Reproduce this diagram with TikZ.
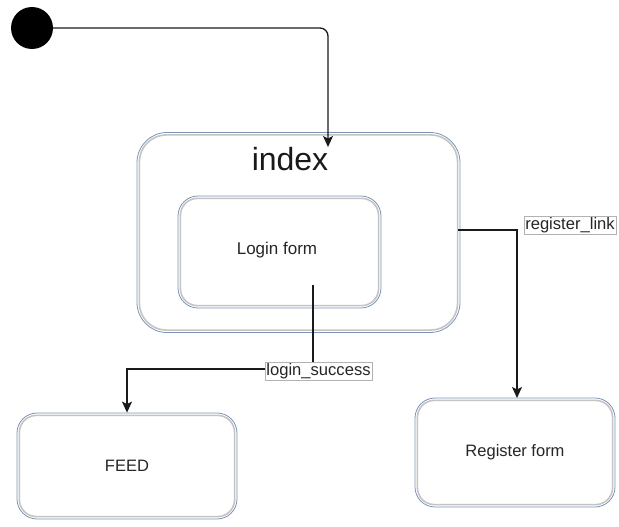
\documentclass[tikz,border=0pt]{standalone}
\usepackage{fontspec}
\setmainfont{Liberation Sans}
\usetikzlibrary{arrows.meta}
\definecolor{boxblue}{HTML}{7C93B8}
\definecolor{boxgray}{HTML}{C4C4C4}
\definecolor{linec}{HTML}{1A1A1A}
\tikzset{
  statebox/.style={draw=boxblue, line width=0.8pt, rounded corners=#1, fill=white,
    font=\fontsize{16.5}{19}\selectfont, text=black!85},
  innerline/.style={draw=boxgray, line width=1.6pt},
  flow/.style={draw=linec, line width=1.3pt, rounded corners=8pt,
    -{Stealth[length=11pt,width=10pt,inset=2.5pt]}},
  plain/.style={draw=linec, line width=1.3pt},
  tag/.style={draw=black!30, line width=0.6pt, fill=white, inner sep=1.2pt,
    font=\fontsize{16.6}{19}\selectfont, text=black!85},
}
\begin{document}
\begin{tikzpicture}[x=1pt,y=-1pt]
\useasboundingbox (0,0) rectangle (619,527);

% states
\node[statebox=30pt, minimum width=323pt, minimum height=200pt] (index) at (298.5,232.5) {};
\node[font=\fontsize{32}{36}\selectfont, text=black!90] (indextitle) at (290,159) {index};
\node[statebox=20pt, minimum width=203pt, minimum height=112pt] (login) at (279.5,252) {};
\node[font=\fontsize{17}{19}\selectfont, text=black!85] (logintext) at (277,250) {Login form};
\node[statebox=20pt, minimum width=220pt, minimum height=106pt] (feed) at (127,466) {FEED};
\node[statebox=20pt, minimum width=200pt, minimum height=109pt] (reg) at (515,452.5) {Register form};

% light inner rim of each state
\foreach \n/\r in {index/27pt, login/17pt, feed/17pt, reg/17pt}
  \draw[innerline, rounded corners=\r] ([shift={(2.8,2.8)}]\n.north west) rectangle ([shift={(-2.8,-2.8)}]\n.south east);

% initial state
\node[circle, fill=black, minimum size=42pt, inner sep=0pt] (start) at (32,28) {};

% transitions
\coordinate (indexin) at (328,147);
\draw[flow] (start.east) -| (indexin);

\coordinate (loginout) at (313,285);
\coordinate (bend1) at (313,369);
\draw[plain] (loginout) -- (bend1);
\draw[flow, rounded corners=0pt] (bend1) -| (feed.north);
\node[tag] (lsuccess) at (318.5,371) {login\_success};

\coordinate (regout) at (458,230);
\coordinate (regin) at (517,398);
\draw[flow, rounded corners=0pt] (regout) -| (regin);
\node[tag] (rlink) at (570,225) {register\_link};
\end{tikzpicture}
\end{document}
